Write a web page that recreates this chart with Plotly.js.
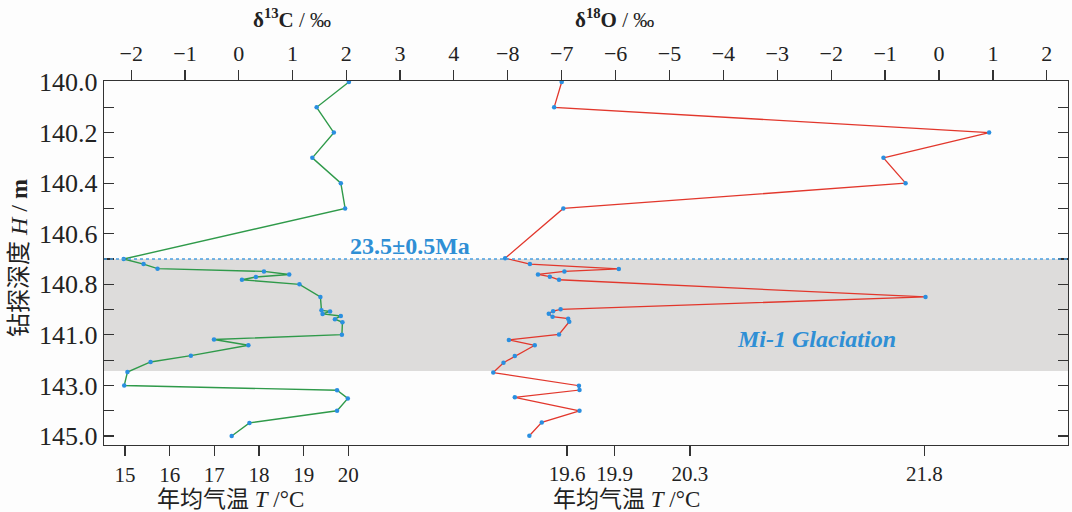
<!DOCTYPE html>
<html>
<head>
<meta charset="utf-8">
<script src="https://cdn.plot.ly/plotly-3.0.1.min.js"></script>
<style>html,body{margin:0;padding:0;background:#fdfdfd;}#chart{width:1072px;height:512px;}</style>
</head>
<body>
<div id="chart"></div>
<script>
// ---- data (depth given as position on the depth axis, one unit per tick) ----
const depthTickPos = [0,2,4,6,8,10,12,14];
const depthTickLabels = ['140.0','140.2','140.4','140.6','140.8','141.0','143.0','145.0'];
const depthMinorPos = [1,3,5,7,9,11,13];

const c13Pos = [0,1,2,3,4,5,7.0,7.2,7.38,7.49,7.61,7.71,7.82,8.0,8.5,9.03,9.07,9.17,9.25,9.38,9.5,9.99,10.18,10.41,10.82,11.07,11.47,12.0,12.19,12.51,13.0,13.48,14.0];
const c13 = [2.05,1.45,1.77,1.37,1.90,1.98,-2.14,-1.77,-1.51,0.47,0.94,0.32,0.06,1.13,1.52,1.54,1.70,1.56,1.90,1.79,1.93,1.92,-0.46,0.18,-0.89,-1.64,-2.07,-2.13,1.83,2.03,1.83,0.20,-0.13];

const o18Pos = [0,1,2,3,4,5,6.97,7.2,7.39,7.49,7.61,7.7,7.82,8.5,8.99,9.06,9.16,9.28,9.36,9.48,9.98,10.2,10.41,10.83,11.1,11.49,12.01,12.18,12.47,13.0,13.46,13.99];
const o18 = [-7.0,-7.14,0.93,-1.03,-0.62,-6.97,-8.05,-7.59,-5.94,-6.95,-7.44,-7.22,-7.05,-0.25,-7.02,-7.16,-7.24,-7.17,-6.88,-6.86,-7.05,-7.98,-7.5,-7.87,-8.08,-8.27,-6.68,-6.67,-7.87,-6.67,-7.37,-7.6];

const c13Ticks = [-2,-1,0,1,2,3,4];
const c13TickLabels = ['\u22122','\u22121','0','1','2','3','4'];
const o18Ticks = [-8,-7,-6,-5,-4,-3,-2,-1,0,1,2];
const o18TickLabels = ['\u22128','\u22127','\u22126','\u22125','\u22124','\u22123','\u22122','\u22121','0','1','2'];
const t1Ticks = [15,16,17,18,19,20];
const t1TickLabels = ['15','16','17','18','19','20'];
// temperature ticks of the right panel, placed at their delta18O equivalents
const t2TickPos = [-6.90,-6.02,-4.62,-0.27];
const t2TickLabels = ['19.6','19.9','20.3','21.8'];

const glaciationTop = 7.0, glaciationBottom = 11.43;

// ---- frame geometry ----
const W = 1072, H = 512, L = 104, R = 1068, T = 81, B = 445;
const px2paperX = p => (p - L) / (R - L);
const px2paperY = p => (B - p) / (B - T);

const serif = "'Liberation Serif', 'Times New Roman', serif";
const cjk = "'Liberation Serif', 'Noto Sans CJK SC', serif";
const axisColor = '#333333';
const tickFont = {family: serif, size: 22, color: '#222'};

const c13Range = [(L - 238.7) / 53.75, (R - 238.7) / 53.75];
const o18Range = [(L - 939) / 53.9, (R - 939) / 53.9];
const t1Range = [15 + (L - 125) / 44.66, 15 + (R - 125) / 44.66];
const yRange = [(B - 82) / 25.29, (T - 82) / 25.29];

const markerStyle = {color: '#2a8fe0', size: 4.5};

const traces = [
  {x: c13, y: c13Pos, xaxis: 'x', yaxis: 'y', type: 'scatter', mode: 'lines+markers',
   line: {color: '#2f9a4a', width: 1.4}, marker: markerStyle, hoverinfo: 'x+y'},
  {x: o18, y: o18Pos, xaxis: 'x2', yaxis: 'y', type: 'scatter', mode: 'lines+markers',
   line: {color: '#e2372c', width: 1.3}, marker: markerStyle, hoverinfo: 'x+y'},
  {x: [null], y: [null], xaxis: 'x3', yaxis: 'y', type: 'scatter', mode: 'markers', showlegend: false, hoverinfo: 'skip'},
  {x: [null], y: [null], xaxis: 'x4', yaxis: 'y', type: 'scatter', mode: 'markers', showlegend: false, hoverinfo: 'skip'}
];

const baseX = {
  showgrid: false, zeroline: false, ticks: 'outside', ticklen: 10, tickwidth: 1.2,
  tickcolor: axisColor, tickfont: tickFont, tickmode: 'array', fixedrange: true
};

const layout = {
  width: W, height: H,
  margin: {l: L, r: W - R, t: T, b: H - B, pad: 0},
  paper_bgcolor: '#fdfdfd', plot_bgcolor: '#fdfdfd',
  showlegend: false,
  xaxis: Object.assign({}, baseX, {side: 'top', range: c13Range, tickvals: c13Ticks, ticktext: c13TickLabels,
    showline: true, linecolor: axisColor, linewidth: 1.3, anchor: 'y'}),
  xaxis2: Object.assign({}, baseX, {side: 'top', overlaying: 'x', range: o18Range, tickvals: o18Ticks, ticktext: o18TickLabels,
    showline: false, anchor: 'y'}),
  xaxis3: Object.assign({}, baseX, {side: 'bottom', overlaying: 'x', range: t1Range, tickvals: t1Ticks, ticktext: t1TickLabels,
    showline: true, linecolor: axisColor, linewidth: 1.3, anchor: 'y', tickfont: {family: serif, size: 21, color: '#222'}}),
  xaxis4: Object.assign({}, baseX, {side: 'bottom', overlaying: 'x', range: o18Range, tickvals: t2TickPos, ticktext: t2TickLabels,
    showline: false, anchor: 'y', tickfont: {family: serif, size: 21, color: '#222'}}),
  yaxis: {
    range: yRange, tickmode: 'array', tickvals: depthTickPos, ticktext: depthTickLabels,
    ticks: 'inside', ticklen: 10, tickwidth: 1.2, tickcolor: axisColor, mirror: 'ticks',
    minor: {tickmode: 'array', tickvals: depthMinorPos, ticks: 'inside', ticklen: 10, tickwidth: 1.2, tickcolor: axisColor, showgrid: false},
    showline: true, linecolor: axisColor, linewidth: 1.3, showgrid: false, zeroline: false,
    tickfont: {family: serif, size: 26, color: '#222'}, fixedrange: true
  },
  shapes: [
    {type: 'rect', xref: 'paper', yref: 'y', x0: 0, x1: 1, y0: glaciationTop, y1: glaciationBottom,
     fillcolor: '#dddcdb', line: {width: 0}, layer: 'below'},
    {type: 'line', xref: 'paper', yref: 'y', x0: 0, x1: 1, y0: glaciationTop, y1: glaciationTop,
     line: {color: '#4a9fe0', width: 1.5, dash: 'dot'}}
  ],
  annotations: [
    {text: '<b>\u03b4<sup>13</sup>C</b> / \u2030', xref: 'paper', yref: 'paper', x: px2paperX(292), y: px2paperY(19),
     showarrow: false, font: {family: serif, size: 21, color: '#222'}, xanchor: 'center', yanchor: 'middle'},
    {text: '<b>\u03b4<sup>18</sup>O</b> / \u2030', xref: 'paper', yref: 'paper', x: px2paperX(614), y: px2paperY(19),
     showarrow: false, font: {family: serif, size: 21, color: '#222'}, xanchor: 'center', yanchor: 'middle'},
    {text: '年均气温 <i>T</i> /°C', xref: 'paper', yref: 'paper', x: px2paperX(230), y: px2paperY(500),
     showarrow: false, font: {family: cjk, size: 23, color: '#222'}, xanchor: 'center', yanchor: 'middle'},
    {text: '年均气温 <i>T</i> /°C', xref: 'paper', yref: 'paper', x: px2paperX(626), y: px2paperY(500),
     showarrow: false, font: {family: cjk, size: 23, color: '#222'}, xanchor: 'center', yanchor: 'middle'},
    {text: '钻探深度 <i>H</i> / <b>m</b>', xref: 'paper', yref: 'paper', x: px2paperX(19), y: px2paperY(258),
     textangle: -90, showarrow: false, font: {family: cjk, size: 24, color: '#222'}, xanchor: 'center', yanchor: 'middle'},
    {text: '<b>23.5±0.5Ma</b>', xref: 'paper', yref: 'paper', x: px2paperX(410), y: px2paperY(246),
     showarrow: false, font: {family: serif, size: 24, color: '#2f8fd5'}, xanchor: 'center', yanchor: 'middle'},
    {text: '<b><i>Mi-1 Glaciation</i></b>', xref: 'paper', yref: 'paper', x: px2paperX(816), y: px2paperY(339),
     showarrow: false, font: {family: serif, size: 24, color: '#2f8fd5'}, xanchor: 'center', yanchor: 'middle'}
  ]
};

Plotly.newPlot('chart', traces, layout, {displayModeBar: false, staticPlot: true});
</script>
</body>
</html>
